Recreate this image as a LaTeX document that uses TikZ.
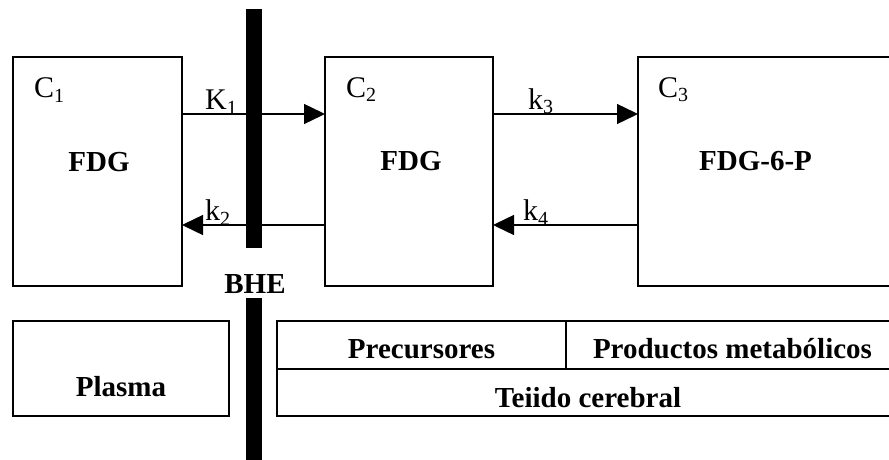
\documentclass[tikz,border=0pt]{standalone}
\usepackage{fontspec}
\setmainfont{Liberation Serif}
\usetikzlibrary{arrows.meta}
\tikzset{
  box/.style={draw=black, line width=1.5pt, minimum width=#1, inner sep=0pt, outer sep=0pt},
  arr/.style={line width=1.4pt, -{Triangle[length=21pt,width=20pt]}},
  bar/.style={fill=black, draw=none},
  lab/.style={anchor=base west, inner sep=0pt, font=\fontsize{30}{34}\selectfont},
  big/.style={anchor=base, inner sep=0pt, font=\fontsize{29}{34}\selectfont\bfseries}
}
\newcommand{\sbs}[1]{\raisebox{-5pt}{\fontsize{20}{20}\selectfont #1}}
\begin{document}
\begin{tikzpicture}[x=1pt,y=-1pt]
\useasboundingbox (0,0) rectangle (889,460);
\clip (0,0) rectangle (889,460);
% compartments
\node[box=169pt, minimum height=229pt] (c1) at (97.5,171.5) {};
\node[box=168pt, minimum height=229pt] (c2) at (409,171.5) {};
\node[box=262pt, minimum height=229pt] (c3) at (769,171.5) {};
% rows
\coordinate (ya) at (0,114);
\coordinate (yb) at (0,225);
\draw[arr] (c1.east |- ya) -- (c2.west |- ya);
\draw[arr] (c2.west |- yb) -- (c1.east |- yb);
\draw[arr] (c2.east |- ya) -- (c3.west |- ya);
\draw[arr] (c3.west |- yb) -- (c2.east |- yb);
% barrier
\fill[bar] (246,9) rectangle (262,248);
\fill[bar] (246,298) rectangle (262,462);
\node[big] (bhe) at (255,293) {BHE};
% labels
\node[lab] (lc1) at (34,98) {C\sbs{1}};
\node[lab] (lc2) at (346,97) {C\sbs{2}};
\node[lab] (lc3) at (658,97) {C\sbs{3}};
\node[lab] (lk1) at (205,110) {K\sbs{1}};
\node[lab] (lk2) at (205,220) {k\sbs{2}};
\node[lab] (lk3) at (528,109) {k\sbs{3}};
\node[lab] (lk4) at (523,220) {k\sbs{4}};
\node[big] (f1) at (99,171) {FDG};
\node[big] (f2) at (411,170) {FDG};
\node[big] (f3) at (755.5,170) {FDG-6-P};
% plasma
\node[box=216pt, minimum height=95pt] (pl) at (121,368.5) {};
\node[big] (plt) at (121,396) {Plasma};
% tissue table
\draw[line width=1.5pt] (277,321) rectangle (900,416);
\draw[line width=1.5pt] (277,369) -- (900,369);
\draw[line width=1.5pt] (566,321) -- (566,369);
\node[big] (pre) at (421.5,358) {Precursores};
\node[big] (pro) at (732.5,358) {Productos metabólicos};
\node[big] (tej) at (588,407) {Teiido cerebral};
\end{tikzpicture}
\end{document}
